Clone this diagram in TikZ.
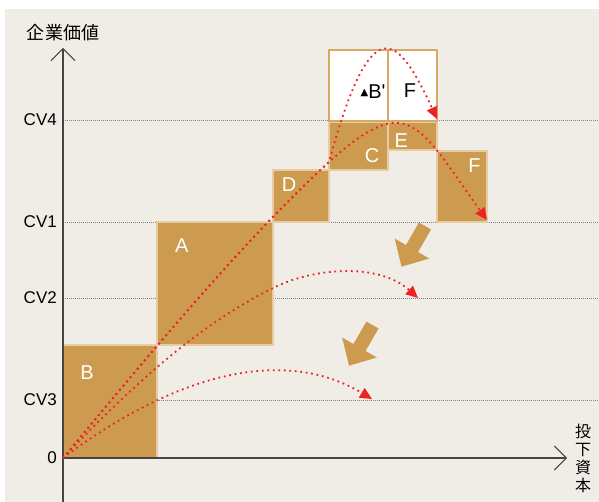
\documentclass[tikz,border=0pt]{standalone}
\usepackage{fontspec}
\setmainfont{Liberation Sans}
\newfontfamily\jafont{Noto Sans CJK JP}
\newfontfamily\symfont{DejaVu Sans}
\usetikzlibrary{arrows.meta}

\definecolor{paper}{HTML}{F0EDE7}
\definecolor{boxtan}{HTML}{CD9B50}
\definecolor{boxedge}{HTML}{E8CBA2}
\definecolor{blankedge}{HTML}{D8A964}
\definecolor{curvered}{HTML}{EE2127}
\definecolor{axisgray}{HTML}{454545}

\begin{document}
\begin{tikzpicture}[
    x=1pt, y=-1pt,
    every node/.style={font=\fontsize{17pt}{20pt}\selectfont, inner sep=0pt},
    box/.style={fill=boxtan, draw=boxedge, line width=1.5pt},
    blank/.style={fill=white, draw=blankedge, line width=1.5pt},
    boxlabel/.style={text=white, font=\fontsize{20pt}{24pt}\selectfont},
    level/.style={draw=gray, line width=0.8pt, dash pattern=on 1pt off 1pt},
    axis/.style={draw=axisgray, line width=1.3pt,
        -{Straight Barb[length=12pt, width=24pt, line width=1pt]}},
    trace/.style={draw=curvered, line width=1.8pt,
        dash pattern=on 1.8pt off 3.7pt,
        -{Triangle[length=12pt, width=11pt]}},
    bigarrow/.pic={
        \fill[boxtan] (0,-7) -- (26,-7) -- (26,-20) -- (47,0)
            -- (26,20) -- (26,7) -- (0,7) -- cycle;
    }
]

% Canvas and background
\useasboundingbox (0,0) rectangle (599,502);
\fill[white] (0,0) rectangle (599,502);
\fill[paper] (5,9) rectangle (599,502);

% Value levels
\foreach \lv/\yy in {CV4/120, CV1/222, CV2/298, CV3/400} {
    \draw[level] (63,\yy) -- (599,\yy);
    \node[anchor=east] (\lv) at (57,\yy) {\lv};
}
\node[anchor=east] (zero) at (57,458) {0};

% Investment blocks
\draw[box] (63,345)  rectangle (157,458);
\draw[box] (157,222) rectangle (273,345);
\draw[box] (273,170) rectangle (329,222);
\draw[box] (329,122) rectangle (388,170);
\draw[box] (388,122) rectangle (437,150);
\draw[box] (437,151) rectangle (487,222);
\draw[blank] (329,50) rectangle (388,121);
\draw[blank] (388,50) rectangle (437,121);

\node[boxlabel] (lB) at (87,372.5) {B};
\node[boxlabel] (lA) at (181.7,245.3) {A};
\node[boxlabel] (lD) at (289,185) {D};
\node[boxlabel] (lC) at (372,156) {C};
\node[boxlabel] (lE) at (401.3,140.3) {E};
\node[boxlabel] (lF) at (474.5,166) {F};
\node[font=\fontsize{20pt}{24pt}\selectfont] (lBp) at (373,92)
    {{\symfont\fontsize{10pt}{10pt}\selectfont\raisebox{3.5pt}{▲}}B\textquotesingle};
\node[font=\fontsize{20pt}{24pt}\selectfont] (lFp) at (410,91) {F};

% Axes
\coordinate (O)    at (63,458);
\coordinate (ybot) at (63,502);
\coordinate (ytop) at (63,48);
\coordinate (xend) at (567,458);
\draw[axis] (ybot) -- (ytop);
\draw[axis] (O) -- (xend);
\node[font=\jafont\fontsize{18pt}{20pt}\selectfont] (yname) at (63,33) {企業価値};
\node[font=\jafont\fontsize{16pt}{18pt}\selectfont, align=center] (xname)
    at (583,458) {投\\下\\資\\本};

% Value paths
\coordinate (K)    at (329,162);
\coordinate (J)    at (273,288);
\coordinate (tipA) at (437,119);
\coordinate (tipB) at (487,220);
\coordinate (tipC) at (418,298);
\coordinate (tipD) at (372,399);
\draw[trace] (O) .. controls (153,350) and (244,240) .. (K)
    .. controls (371,8) and (397,32) .. (tipA);
\draw[trace] (O) .. controls (153,350) and (244,240) .. (K)
    .. controls (409,90) and (418,124) .. (tipB);
\draw[trace] (O) .. controls (153,363.5) and (213,318) .. (J)
    .. controls (313,268) and (378,262) .. (tipC);
\draw[trace] (O) .. controls (173,375.5) and (282,345) .. (tipD);

% Shift downwards
\pic[rotate=240] at (425,226) {bigarrow};
\pic[rotate=240] at (372.5,325) {bigarrow};

\end{tikzpicture}
\end{document}
